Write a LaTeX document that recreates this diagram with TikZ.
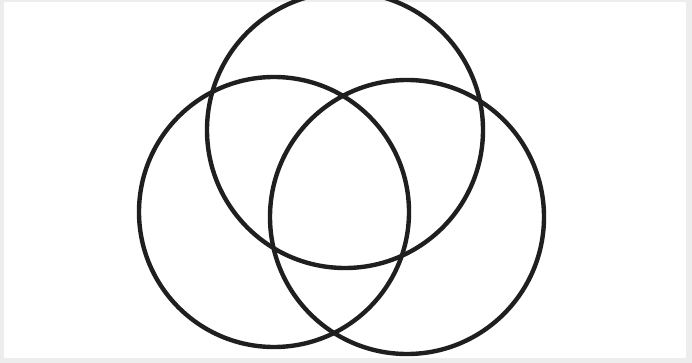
\documentclass[tikz,border=0pt]{standalone}
\begin{document}
\begin{tikzpicture}[x=1pt,y=-1pt,
  ring/.style={circle,draw=black!88,line width=4.4pt,inner sep=0pt,outer sep=0pt}]
\useasboundingbox (0,0) rectangle (692,363);
\fill[black!7] (0,0) rectangle (692,363);
\fill[white] (4,2) rectangle (686,358);
\node[ring,minimum size=276pt] (topc) at (345,130) {};
\node[ring,minimum size=270pt] (leftc) at (274,212) {};
\node[ring,minimum size=274pt] (rightc) at (407,217) {};
\end{tikzpicture}
\end{document}
